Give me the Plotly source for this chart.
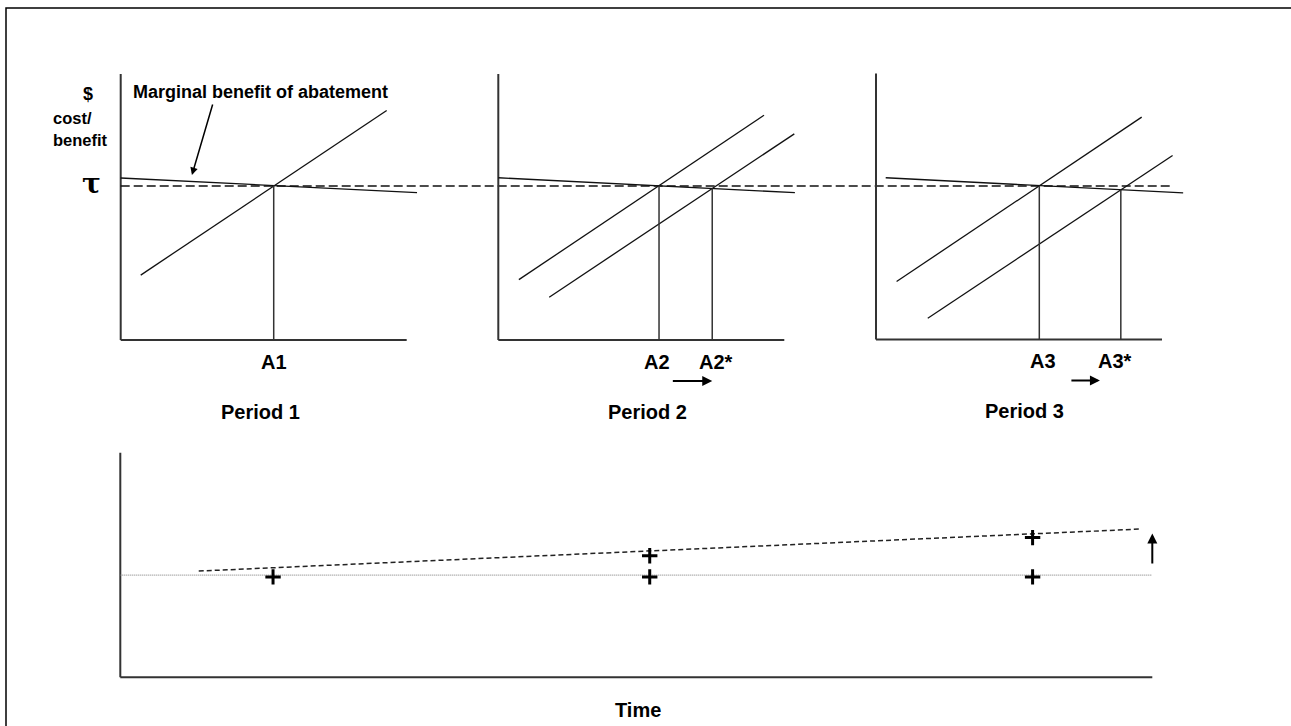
import plotly.graph_objects as go

W, H = 1291, 726

# ---------------- data (schematic units) ----------------
tau = 5.79                     # tax level (cost/benefit units)
tau_line_x = [0.0, 36.7]       # dashed tau line spans the whole top row

mb1_x, mb1_y = [0.0, 10.36], [6.09, 5.54]     # marginal benefit, period 1
mb2_x, mb2_y = [0.0, 10.37], [6.10, 5.54]
mb3_x, mb3_y = [0.34, 10.74], [6.08, 5.51]

mc1_x, mc1_y = [0.70, 9.30], [2.44, 8.63]     # marginal cost, period 1
mc2a_x, mc2a_y = [0.72, 9.29], [2.27, 8.45]   # period 2, old MC
mc2b_x, mc2b_y = [1.78, 10.35], [1.61, 7.75]  # period 2, new MC
mc3a_x, mc3a_y = [0.72, 9.29], [2.18, 8.36]
mc3b_x, mc3b_y = [1.81, 10.37], [0.80, 6.92]

p1_abate, p1_level = [5.35], [5.81]
p2_abate, p2_level = [5.62, 7.48], [5.80, 5.70]
p3_abate, p3_level = [5.71, 8.56], [5.78, 5.63]

p1_labels, p1_label_x = ["A1"], [5.35]
p2_labels, p2_label_x = ["A2", "A2*"], [5.56, 7.6]
p3_labels, p3_label_x = ["A3", "A3*"], [5.84, 8.36]
p2_shift = [6.05, 7.48]
p3_shift = [6.78, 7.83]

period_labels = ["Period 1", "Period 2", "Period 3"]
period_label_x = [4.9, 5.2, 5.2]

axis_len = 10.0

# bottom panel (time units / level units)
t_periods = [1.48, 5.13, 8.84]
base_level = 4.55
base_x = [0.0, 10.0]
actual_before = [4.47, 4.47, 4.47]
actual_after_t = [5.13, 8.84]
actual_after = [5.41, 6.22]
trend_x, trend_y = [0.76, 9.88], [4.73, 6.60]
rise_x, rise_from, rise_to = 10.0, 5.0, 6.40

# ---------------- layout geometry (pixels) ----------------
def dom_x(origin, ppu, r):
    return [(origin + r[0] * ppu) / W, (origin + r[1] * ppu) / W]

def dom_y(origin, ppu, r):
    return [1 - (origin - r[0] * ppu) / H, 1 - (origin - r[1] * ppu) / H]

XPPU, YPPU = 28.6, 26.6
top_yr = [-3.3, 10.5]
r1, r2, r3 = [-2.5, 37.5], [-0.5, 11.5], [-0.5, 11.5]
bxr, byr = [-0.2, 10.5], [-2.0, 10.2]
BXPPU, BYPPU = 103.2, 22.46

fig = go.Figure()

BLACK = "#111111"
AX = "#333333"

def line(x, y, xa, ya, color=BLACK, width=1.3, dash=None):
    fig.add_trace(go.Scatter(x=x, y=y, xaxis=xa, yaxis=ya, mode="lines",
                             line=dict(color=color, width=width, dash=dash),
                             hoverinfo="skip", showlegend=False))

# axes of three top panels
for xa, ya in [("x", "y"), ("x2", "y2"), ("x3", "y3")]:
    line([0, axis_len], [0, 0], xa, ya, AX, 2)
    line([0, 0], [0, axis_len], xa, ya, AX, 2)

# tau line
line(tau_line_x, [tau, tau], "x", "y", BLACK, 1.3, "9px,4px")

# MB and MC curves
line(mb1_x, mb1_y, "x", "y")
line(mc1_x, mc1_y, "x", "y")
line(mb2_x, mb2_y, "x2", "y2")
line(mc2a_x, mc2a_y, "x2", "y2")
line(mc2b_x, mc2b_y, "x2", "y2")
line(mb3_x, mb3_y, "x3", "y3")
line(mc3a_x, mc3a_y, "x3", "y3")
line(mc3b_x, mc3b_y, "x3", "y3")

# vertical drop lines
for ab, lv, xa, ya in [(p1_abate, p1_level, "x", "y"),
                       (p2_abate, p2_level, "x2", "y2"),
                       (p3_abate, p3_level, "x3", "y3")]:
    for a, l in zip(ab, lv):
        line([a, a], [0, l], xa, ya, AX, 1.5)

# bottom panel
line([0, axis_len], [0, 0], "x4", "y4", AX, 2)
line([0, 0], [0, axis_len], "x4", "y4", AX, 2)
line(base_x, [base_level, base_level], "x4", "y4", "#777777", 1, "1px,1px")
line(trend_x, trend_y, "x4", "y4", "#222222", 1.5, "5px,3px")
fig.add_trace(go.Scatter(x=t_periods + actual_after_t,
                         y=actual_before + actual_after,
                         xaxis="x4", yaxis="y4", mode="markers",
                         marker=dict(symbol="cross-thin", size=11,
                                     line=dict(color="black", width=3)),
                         hoverinfo="skip", showlegend=False))

ann = []
BOLD = "Liberation Sans, Arial, sans-serif"

def label(text, x, y, xref, yref, size=19, family=BOLD):
    ann.append(dict(text="<b>%s</b>" % text,
                    x=x, y=y, xref=xref, yref=yref, showarrow=False,
                    font=dict(family=family, size=size, color="black"),
                    xanchor="center", yanchor="middle"))

def arrow(x, y, ax, ay, xref, yref, width=2):
    ann.append(dict(text="", x=x, y=y, ax=ax, ay=ay, xref=xref, yref=yref,
                    axref=xref, ayref=yref, showarrow=True, arrowhead=2,
                    arrowsize=1, arrowwidth=width, arrowcolor="black"))

LABEL_Y = (340 - 362) / YPPU
PERIOD_Y = (340 - 412) / YPPU
SHIFT_Y = (340 - 381) / YPPU

for labs, lx, xa, ya in [(p1_labels, p1_label_x, "x", "y"),
                         (p2_labels, p2_label_x, "x2", "y2"),
                         (p3_labels, p3_label_x, "x3", "y3")]:
    for t, x in zip(labs, lx):
        label(t, x, LABEL_Y, xa, ya, 20)

for t, x, xa, ya in zip(period_labels, period_label_x, ["x", "x2", "x3"], ["y", "y2", "y3"]):
    label(t, x, PERIOD_Y, xa, ya, 20)

arrow(p2_shift[1], SHIFT_Y, p2_shift[0], SHIFT_Y, "x2", "y2")
arrow(p3_shift[1], SHIFT_Y, p3_shift[0], SHIFT_Y, "x3", "y3")

# y-axis annotations of period 1
label("$", (88 - 120.7) / XPPU, 9.25, "x", "y", 18)
label("cost/", (72 - 120.7) / XPPU, 8.35, "x", "y", 16.5)
label("benefit", (80 - 120.7) / XPPU, 7.52, "x", "y", 16.5)
label("\u03c4", (91 - 120.7) / XPPU, tau + 0.1, "x", "y", 28, "DejaVu Serif, serif")
label("Marginal benefit of abatement", 4.89, 9.32, "x", "y", 18)
arrow(2.49, 6.20, 3.23, 8.91, "x", "y", 1.5)

# bottom annotations
label("Time", 5.02, -1.46, "x4", "y4", 20)
arrow(rise_x, rise_to, rise_x, rise_from, "x4", "y4", 2)

def hidden(**kw):
    d = dict(visible=False, fixedrange=True)
    d.update(kw)
    return d

fx0, fy1 = 6 / W, 1 - 8 / H
frame_path = "M %f,%f L %f,%f L %f,%f" % (fx0, -0.1, fx0, fy1, 1.1, fy1)

fig.update_layout(
    width=W, height=H,
    margin=dict(l=0, r=0, t=0, b=0),
    paper_bgcolor="white", plot_bgcolor="rgba(0,0,0,0)",
    showlegend=False,
    xaxis=hidden(range=r1, domain=dom_x(120.7, XPPU, r1), anchor="y"),
    yaxis=hidden(range=top_yr, domain=dom_y(340, YPPU, top_yr), anchor="x"),
    xaxis2=hidden(range=r2, domain=dom_x(498.3, XPPU, r2), anchor="y2"),
    yaxis2=hidden(range=top_yr, domain=dom_y(340, YPPU, top_yr), anchor="x2"),
    xaxis3=hidden(range=r3, domain=dom_x(876, XPPU, r3), anchor="y3"),
    yaxis3=hidden(range=top_yr, domain=dom_y(339.5, YPPU, top_yr), anchor="x3"),
    xaxis4=hidden(range=bxr, domain=dom_x(120.3, BXPPU, bxr), anchor="y4"),
    yaxis4=hidden(range=byr, domain=dom_y(677.3, BYPPU, byr), anchor="x4"),
    annotations=ann,
    shapes=[dict(type="path", xref="paper", yref="paper", path=frame_path,
                 line=dict(color="black", width=1.5))],
)

fig.write_html("out.html", config={"displayModeBar": False},
               post_script="document.body.style.margin='0px';document.body.style.overflow='hidden';")
